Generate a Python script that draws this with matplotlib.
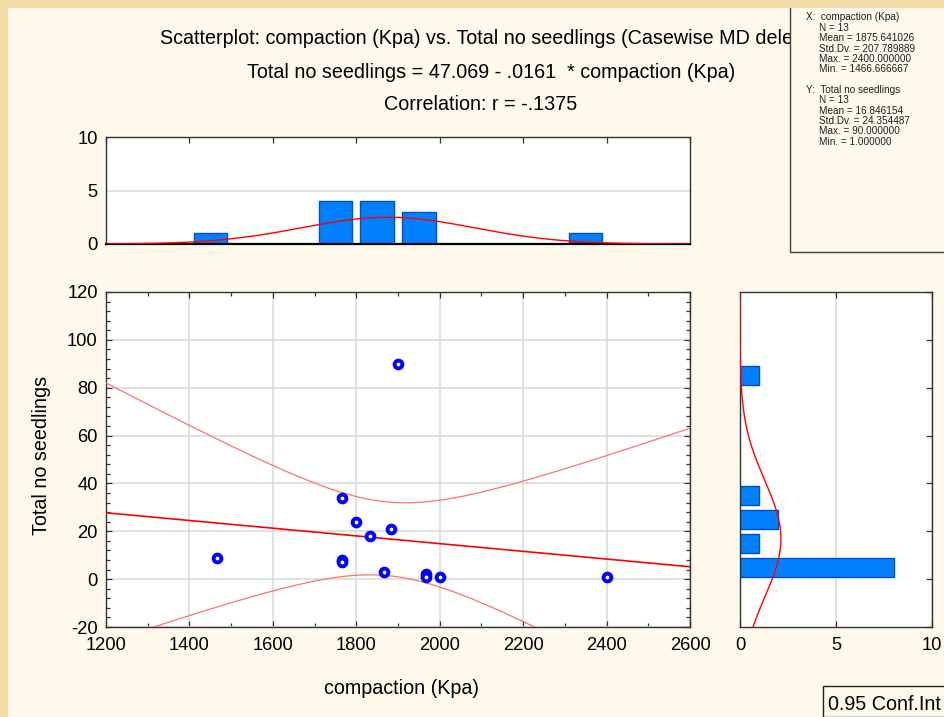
import numpy as np
import matplotlib
matplotlib.use("Agg")
import matplotlib.pyplot as plt
from matplotlib.patches import Rectangle
from matplotlib.ticker import MultipleLocator, FixedLocator
from matplotlib.transforms import Bbox

plt.rcParams['font.family'] = ['Liberation Sans', 'DejaVu Sans']
plt.rcParams['axes.unicode_minus'] = False

# ---------------- data ----------------
compaction = np.array([1466.666667, 1766.666667, 1766.666667, 1766.666667, 1800.0,
                       1833.333333, 1866.666667, 1883.333333, 1900.0, 1966.666667,
                       1966.666667, 2000.0, 2400.0])
seedlings = np.array([9, 34, 8, 7, 24, 18, 3, 21, 90, 2, 1, 1, 1], dtype=float)

x_name = "compaction (Kpa)"
y_name = "Total no seedlings"
# title as visible in the reference (cut off by the statistics box)
title_text = "Scatterplot: compaction (Kpa) vs. Total no seedlings (Casewise MD dele"
x_ticks = [1200, 1400, 1600, 1800, 2000, 2200, 2400, 2600]
y_ticks = [-20, 0, 20, 40, 60, 80, 100, 120]
x_bin_edges = np.arange(1200, 2601, 100)
y_bin_edges = np.arange(-20, 121, 10)
hist_ticks = [0, 5, 10]
conf_label = "0.95 Conf.Int"
t_crit = 2.200985  # t(0.975, df=11)

# ---------------- statistics ----------------
n = len(compaction)
mx, my = compaction.mean(), seedlings.mean()
sx, sy = compaction.std(ddof=1), seedlings.std(ddof=1)
r = np.corrcoef(compaction, seedlings)[0, 1]
b1 = r * sy / sx
b0 = my - b1 * mx
resid = seedlings - (b0 + b1 * compaction)
s_res = np.sqrt((resid ** 2).sum() / (n - 2))
sxx = ((compaction - mx) ** 2).sum()

def fmt_nolead(v, d):
    s = f"{v:.{d}f}"
    if s.startswith("0."):
        return s[1:]
    if s.startswith("-0."):
        return "-" + s[2:]
    return s

def hist_counts(vals, edges):
    idx = np.searchsorted(edges, vals, side='left') - 1
    return np.bincount(idx, minlength=len(edges) - 1)

def npdf(v, m, s):
    return np.exp(-0.5 * ((v - m) / s) ** 2) / (s * np.sqrt(2 * np.pi))

# ---------------- figure ----------------
W, H = 944, 717
fig = plt.figure(figsize=(W / 100, H / 100), dpi=100)
cream = '#FFF9EC'
tan = '#F2DBA6'
fig.patch.set_facecolor(cream)

def fbox(l, t, r_, b):
    return [l / W, 1 - b / H, (r_ - l) / W, (b - t) / H]

bar_face = '#0080FF'
bar_edge = '#0050C8'
grid_c = '#DCDCDC'
fs = 13.2      # tick labels
fs_t = 14.2    # titles / axis labels

# main scatter
ax = fig.add_axes(fbox(106, 292, 690, 627))
ax.set_facecolor('white')
ax.set_xlim(1200, 2600)
ax.set_ylim(-20, 120)
ax.xaxis.set_major_locator(FixedLocator(x_ticks))
ax.yaxis.set_major_locator(FixedLocator(y_ticks))
ax.xaxis.set_minor_locator(MultipleLocator(100))
ax.yaxis.set_minor_locator(MultipleLocator(4))
ax.grid(True, which='major', color=grid_c, lw=1.2, zorder=0)
ax.tick_params(which='both', direction='in', top=True, right=True, width=0.9, colors='#333333',
               labelcolor='black', labelsize=fs)
ax.tick_params(which='major', length=4)
ax.tick_params(which='minor', length=3)
ax.tick_params(axis='x', pad=7)
ax.tick_params(axis='y', pad=6)
for sp in ax.spines.values():
    sp.set_color('#333333')
    sp.set_linewidth(1.0)

xx = np.linspace(1200, 2600, 400)
yfit = b0 + b1 * xx
hw = t_crit * s_res * np.sqrt(1 / n + (xx - mx) ** 2 / sxx)
ax.plot(xx, yfit, color='#FF0000', lw=1.2, zorder=3)
ax.plot(xx, yfit + hw, color='#FF7070', lw=0.9, zorder=3)
ax.plot(xx, yfit - hw, color='#FF7070', lw=0.9, zorder=3)
ax.plot(compaction, seedlings, 'o', ms=5.6, mew=2.8, mfc='white', mec='#0000FF', zorder=4,
        clip_on=False)

# top histogram
axt = fig.add_axes(fbox(106, 137, 690, 244))
axt.set_facecolor('white')
cx = hist_counts(compaction, x_bin_edges)
ctr_x = (x_bin_edges[:-1] + x_bin_edges[1:]) / 2
m = cx > 0
axt.bar(ctr_x[m], cx[m], width=80, color=bar_face, edgecolor=bar_edge, lw=1, zorder=2)
axt.plot(xx, n * 100 * npdf(xx, mx, sx), color='#FF0000', lw=1.0, zorder=3)
axt.set_xlim(1200, 2600)
axt.set_ylim(0, 10)
axt.xaxis.set_major_locator(FixedLocator(x_ticks))
axt.yaxis.set_major_locator(FixedLocator(hist_ticks))
axt.grid(True, axis='y', color=grid_c, lw=1.2, zorder=0)
axt.tick_params(axis='x', direction='in', top=True, bottom=False, labelbottom=False, length=4,
                width=0.9, colors='#333333')
axt.tick_params(axis='y', direction='in', length=0, labelsize=fs, labelcolor='black', pad=6)
for sp in axt.spines.values():
    sp.set_color('#333333')
    sp.set_linewidth(1.0)
axt.spines['bottom'].set_linewidth(1.6)
axt.spines['bottom'].set_color('black')

# right histogram
axr = fig.add_axes(fbox(740, 292, 932, 627))
axr.set_facecolor('white')
cy = hist_counts(seedlings, y_bin_edges)
ctr_y = (y_bin_edges[:-1] + y_bin_edges[1:]) / 2
m = cy > 0
axr.barh(ctr_y[m], cy[m], height=8, color=bar_face, edgecolor=bar_edge, lw=1, zorder=2)
yy = np.linspace(-20, 120, 400)
axr.plot(n * 10 * npdf(yy, my, sy), yy, color='#FF0000', lw=1.0, zorder=3)
axr.set_xlim(0, 10)
axr.set_ylim(-20, 120)
axr.xaxis.set_major_locator(FixedLocator(hist_ticks))
axr.yaxis.set_major_locator(FixedLocator(y_ticks))
axr.grid(True, axis='x', color=grid_c, lw=1.2, zorder=0)
axr.tick_params(axis='y', direction='in', left=False, right=True, labelleft=False, length=4,
                width=0.9, colors='#333333')
axr.tick_params(axis='x', direction='in', top=True, length=4, width=0.9, colors='#333333',
                labelcolor='black', labelsize=fs, pad=7)
for sp in axr.spines.values():
    sp.set_color('#333333')
    sp.set_linewidth(1.0)

# titles and labels
eq = f"{y_name} = {b0:.3f} - {fmt_nolead(abs(b1), 4)}  * {x_name}"
t1 = fig.text(160 / W, 1 - 38 / H, title_text, ha='left', va='center', fontsize=fs_t)
t1.set_clip_box(Bbox.from_extents(0, 0, 790, H))
t1.set_clip_on(True)
fig.text(491.5 / W, 1 - 72 / H, eq, ha='center', va='center', fontsize=fs_t)
fig.text(480.5 / W, 1 - 104 / H, f"Correlation: r = {fmt_nolead(r, 4)}",
         ha='center', va='center', fontsize=fs_t)
fig.text(401 / W, 1 - 689 / H, x_name, ha='center', va='center', fontsize=fs_t)
fig.text(42 / W, 1 - 455 / H, y_name, ha='center', va='center', rotation=90, fontsize=fs_t)

# stats box
fig.add_artist(Rectangle((790 / W, 1 - 252 / H), 200 / W, 252 / H, transform=fig.transFigure,
                         facecolor=cream, edgecolor='#404040', lw=1.0, zorder=5))
lines = [
    (806, f"X:  {x_name}"), (819, f"N = {n}"), (819, f"Mean = {mx:.6f}"),
    (819, f"Std.Dv. = {sx:.6f}"), (819, f"Max. = {compaction.max():.6f}"),
    (819, f"Min. = {compaction.min():.6f}"), (806, ""),
    (806, f"Y:  {y_name}"), (819, f"N = {n}"), (819, f"Mean = {my:.6f}"),
    (819, f"Std.Dv. = {sy:.6f}"), (819, f"Max. = {seedlings.max():.6f}"),
    (819, f"Min. = {seedlings.min():.6f}"),
]
for i, (xp, s) in enumerate(lines):
    if s:
        fig.text(xp / W, 1 - (17.5 + i * 10.35) / H, s, ha='left', va='center', fontsize=7.2,
                 zorder=6, color='#202020')

# conf int box
fig.add_artist(Rectangle((823 / W, 0), 200 / W, (717 - 686) / H, transform=fig.transFigure,
                         facecolor=cream, edgecolor='#202020', lw=1.0, zorder=5))
fig.text(828 / W, 1 - 704 / H, conf_label, ha='left', va='center', fontsize=fs_t, zorder=6)

# tan border (left & top)
fig.add_artist(Rectangle((0, 0), 8 / W, 1, transform=fig.transFigure, facecolor=tan,
                         edgecolor='none', zorder=10))
fig.add_artist(Rectangle((0, 1 - 8 / H), 1, 8 / H, transform=fig.transFigure, facecolor=tan,
                         edgecolor='none', zorder=10))

fig.savefig("out.png", dpi=100, facecolor=fig.get_facecolor())
